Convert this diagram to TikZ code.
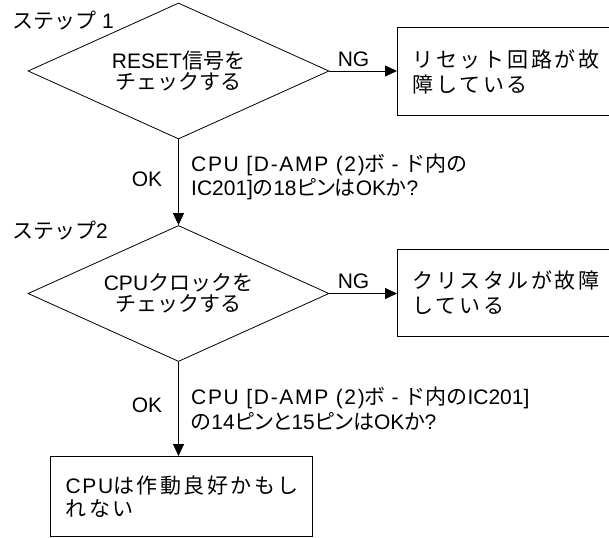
\documentclass[tikz,border=0pt]{standalone}
\usepackage{fontspec}
\setmainfont{Liberation Sans}
\newfontfamily\jp{Noto Sans CJK JP}
\newfontfamily\jpp[RawFeature=+palt]{Noto Sans CJK JP}
\newfontfamily\jpw[LetterSpace=13]{Noto Sans CJK JP}
\newfontfamily\jpww[LetterSpace=12]{Noto Sans CJK JP}
\newfontfamily\latw[LetterSpace=8]{Liberation Sans}
\usetikzlibrary{shapes.geometric,arrows.meta}
\newcommand\J[1]{{\jp #1}}
\newcommand\JP[1]{{\jpp #1}}
\newcommand\JW[1]{{\jpw #1}}
\newcommand\JWW[1]{{\jpww #1}}
\begin{document}
\begin{tikzpicture}[x=1pt,y=-1pt,
  every node/.style={inner sep=0pt, font=\fontsize{21}{21}\selectfont},
  conn/.style={-{Triangle[length=12pt,width=11pt]}, line width=0.8pt},
  dia/.style={draw, diamond, aspect=2.2, line width=0.8pt, minimum width=301pt, minimum height=136pt, align=center},
  box/.style={draw, line width=1pt, anchor=north west, align=left, inner xsep=15pt},
  lbl/.style={anchor=west, align=left}]
\useasboundingbox (0,0) rectangle (609,537);

\node[anchor=west] (s1) at (12,21) {\J{ステップ} 1};
\node[anchor=west] (s2) at (12,231) {\J{ステップ}2};

\node[dia] (d1) at (178.5,71) {RESET\J{信号を}\\\J{チェックする}};
\node[dia] (d2) at (178.5,293.5) {CPU\J{クロックを}\\\J{チェックする}};

\node[box, minimum height=88pt, text width=195pt, font=\fontsize{21}{25}\selectfont] (b1) at (397,27) {\JW{リセット回路が故}\\\JW{障している}};
\node[box, minimum height=87pt, text width=195pt, font=\fontsize{21}{25}\selectfont] (b2) at (397,249) {\JW{クリスタルが故障}\\\JW{している}};
\node[box, minimum height=80pt, text width=232pt, font=\fontsize{21}{23}\selectfont, inner xsep=15pt] (b3) at (50,456) {{\latw CPU}\JWW{は作動良好かもし}\\\JWW{れない}};

\draw[conn] (d1.east) -- (d1.east -| b1.west);
\draw[conn] (d2.east) -- (d2.east -| b2.west);
\draw[conn] (d1.south) -- (d2.north);
\draw[conn] (d2.south) -- (d2.south |- b3.north);

\node (ng1) at (353.5,59) {NG};
\node (ng2) at (353.5,281) {NG};
\node (ok1) at (147,179) {OK};
\node (ok2) at (147,405) {OK};

\node[lbl, font=\fontsize{21}{24}\selectfont] (l1) at (191,177) {{\latw CPU [D-AMP (2)}\J{ボ} - \J{ド内の}\\IC201]\JP{の}18\JP{ピンは}OK\JP{か}?};
\node[lbl, font=\fontsize{21}{25}\selectfont] (l2) at (191,409) {{\latw CPU [D-AMP (2)}\J{ボ} - \J{ド内の}IC201]\\\JP{の}14\JP{ピンと}15\JP{ピンは}OK\JP{か}?};
\end{tikzpicture}
\end{document}
